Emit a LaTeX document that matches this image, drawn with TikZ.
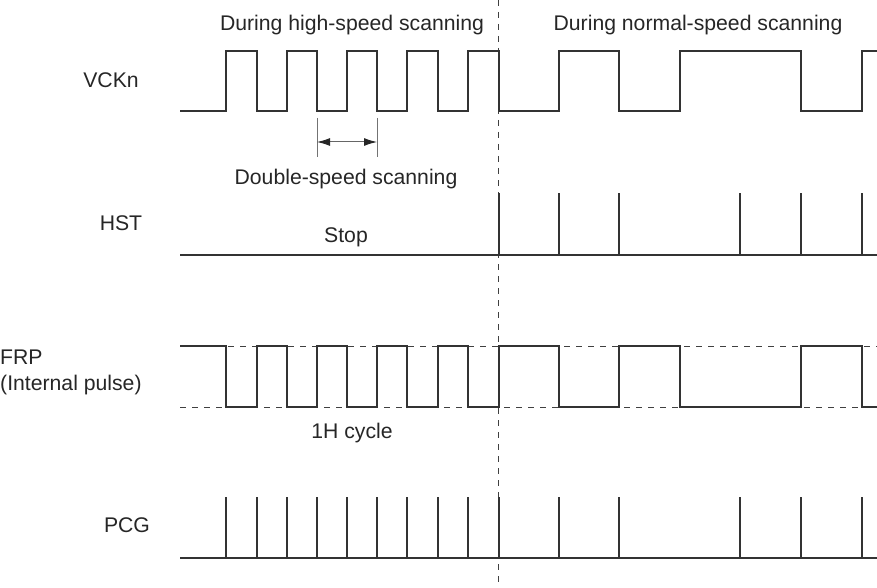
\documentclass[tikz,border=0pt]{standalone}
\usepackage{fontspec}
\setmainfont{Liberation Sans}
\usetikzlibrary{arrows.meta}

\tikzset{
  wave/.style={line width=1.3pt,black!80,line join=miter},
  guide/.style={black!75,line width=0.9pt,dash pattern=on 6pt off 6pt},
  lbl/.style={font=\fontsize{21.2}{25}\selectfont,text=black!85,inner sep=0pt,anchor=base}
}

\begin{document}
\begin{tikzpicture}[x=1pt,y=-1pt]
  \useasboundingbox (0,0) rectangle (877,588);

  % labels
  \node[lbl] (hs) at (352,31) {During high-speed scanning};
  \node[lbl] (ns) at (698,31) {During normal-speed scanning};
  \node[lbl] (vck) at (111,88) {VCKn};
  \node[lbl] (ds) at (346,185) {Double-speed scanning};
  \node[lbl] (hst) at (121,230) {HST};
  \node[lbl] (stop) at (346,242) {Stop};
  \node[lbl,anchor=base west] (frp) at (0,364) {FRP};
  \node[lbl,anchor=base west] (ipulse) at (0,390) {(Internal pulse)};
  \node[lbl] (cyc) at (352,438) {1H cycle};
  \node[lbl] (pcg) at (127,532) {PCG};

  % boundary between the two modes
  \coordinate (bTop) at (498,0);
  \coordinate (bBot) at (498,588);
  \draw[guide] (bTop) -- (bBot);

  % VCKn
  \draw[wave] (180,111) -| (226,51) -| (257,111) -| (287,51) -| (317,111)
    -| (347,51) -| (377,111) -| (407,51) -| (438,111) -| (468,51) -| (499,111)
    -| (559,51) -| (619,111) -| (680,51) -| (801,111) -| (862,51) -- (877,51);

  % double-speed period
  \coordinate (tlT) at (317,118); \coordinate (tlB) at (317,157);
  \coordinate (trT) at (377,118); \coordinate (trB) at (377,157);
  \draw[black!55,line width=1pt] (tlT) -- (tlB) (trT) -- (trB);
  \draw[black!60,line width=1pt,{Latex[length=13pt,width=8pt,black!85]}-{Latex[length=13pt,width=8pt,black!85]}]
    (tlT|-0,142) -- (trT|-0,142);

  % HST
  \draw[wave] (180,255) -- (877,255);
  \foreach \x in {499,559,619,740,801,862}
    \draw[wave] (\x,255) -- (\x,193);

  % FRP
  \draw[guide] (180,346) -- (877,346);
  \draw[guide] (180,407) -- (877,407);
  \draw[wave] (180,346) -| (226,407) -| (257,346) -| (287,407) -| (317,346)
    -| (347,407) -| (377,346) -| (407,407) -| (438,346) -| (468,407) -| (499,346)
    -| (559,407) -| (619,346) -| (680,407) -| (801,346) -| (862,407) -- (877,407);

  % PCG
  \draw[wave] (180,558) -- (877,558);
  \foreach \x in {226,257,287,317,347,377,407,438,468,499,559,619,740,801,862}
    \draw[wave] (\x,558) -- (\x,497);
\end{tikzpicture}
\end{document}
